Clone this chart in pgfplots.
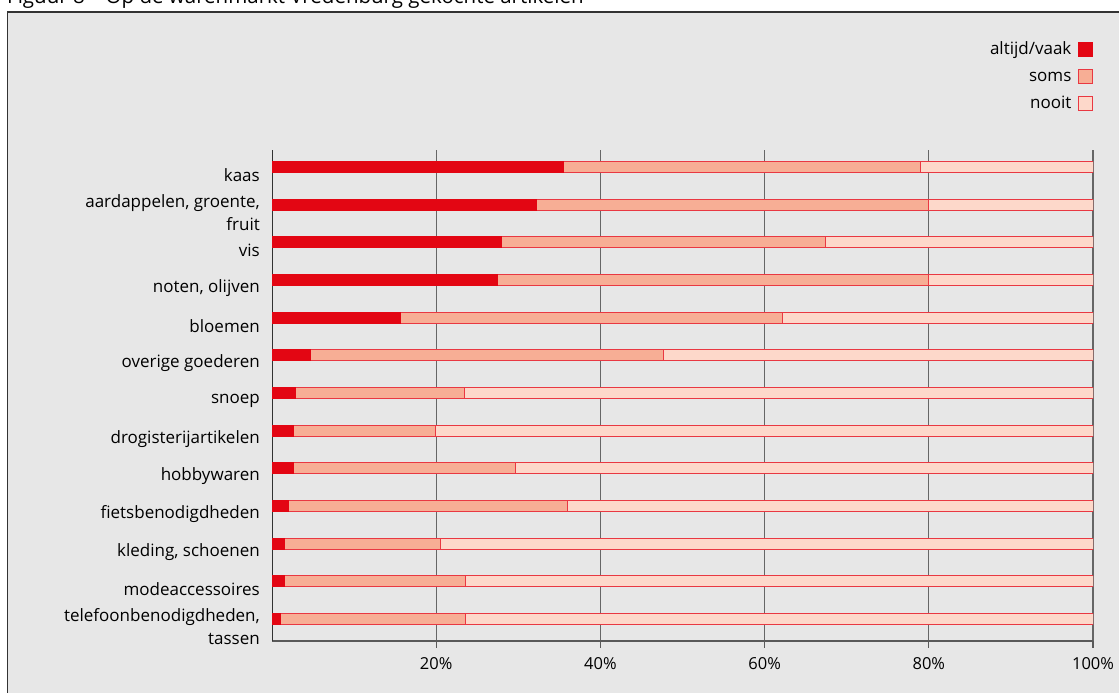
\documentclass[border=0pt]{standalone}
\usepackage{pgfplots}
\pgfplotsset{compat=1.18}
\usepackage{pgfplotstable}
\usepackage{fontspec}
\setmainfont{Open Sans}
\definecolor{bgc}{HTML}{E7E7E7}
\definecolor{redA}{HTML}{E30613}
\definecolor{redB}{HTML}{F7AE95}
\definecolor{redC}{HTML}{FDD8CA}
\pgfplotstableread{
y a s n
0 1.0 22.6 76.4
1 1.5 22.1 76.4
2 1.5 19.0 79.5
3 2.0 34.0 64.0
4 2.6 27.1 70.3
5 2.6 17.3 80.1
6 2.9 20.5 76.6
7 4.7 43.0 52.3
8 15.7 46.5 37.8
9 27.4 52.5 20.1
10 27.9 39.5 32.6
11 32.2 47.7 20.1
12 35.5 43.5 21.0
}\data
\begin{document}
\begin{tikzpicture}
\useasboundingbox (0,0) rectangle (1119bp,693bp);
\clip (0,0) rectangle (1119bp,693bp);
\draw[fill=bgc, draw=black!80, line width=1.3bp] (7.5bp,-10bp) rectangle (1130bp,681bp);
\node[anchor=base west, inner sep=0pt, font=\fontsize{20.5bp}{24bp}\selectfont] at (7bp,689bp) {Figuur 8 -- Op de warenmarkt Vredenburg gekochte artikelen};
\begin{axis}[
  at={(272bp,52bp)}, anchor=south west,
  scale only axis, width=821bp, height=491bp,
  xbar stacked, bar width=11bp,
  xmin=0, xmax=100, ymin=-0.584, ymax=12.45,
  axis x line*=bottom, axis y line*=left,
  x axis line style={draw=black!65, line width=1.6bp, -},
  y axis line style={draw=black!80, line width=1bp, -},
  xmajorgrids, grid style={black!60, line width=1.2bp},
  xtick={20,40,60,80,100},
  xticklabel={\pgfmathprintnumber{\tick}\%},
  /pgf/number format/assume math mode=true,
  x tick style={draw=black!65, line width=1.2bp},
  tick align=outside, major tick length=7bp,
  ytick={0,...,12},
  y tick style={draw=none},
  yticklabels={{telefoonbenodigdheden,\\tassen},modeaccessoires,{kleding, schoenen},fietsbenodigdheden,hobbywaren,drogisterijartikelen,snoep,overige goederen,bloemen,{noten, olijven},vis,{aardappelen, groente,\\fruit},kaas},
  y tick label style={align=right, yshift=-8bp, font=\fontsize{17bp}{23bp}\selectfont, inner sep=0pt, xshift=-5bp},
  x tick label style={font=\fontsize{16.5bp}{19bp}\selectfont, yshift=-6bp},
  legend style={draw=none, fill=none, at={(1,1)}, anchor=south east, yshift=36bp, xshift=0bp,
    font=\fontsize{17bp}{20bp}\selectfont, row sep=7bp, inner sep=0pt,
    nodes={inner sep=2bp, text height=12.5bp, text depth=3.5bp}},
  legend cell align=right, legend plot pos=right,
  legend image code/.code={\path[draw=none, fill=none] (0bp,0bp) -- (19bp,0bp); \draw[#1] (5bp,-7bp) rectangle (19bp,7bp);},
]
\addplot[fill=redA, draw=redA, line width=0.8bp] table[x=a, y=y] {\data};
\addplot[fill=redB, draw=redA!80, line width=0.8bp] table[x=s, y=y] {\data};
\addplot[fill=redC, draw=redA!80, line width=0.8bp] table[x=n, y=y] {\data};
\legend{altijd/vaak, soms, nooit}
\end{axis}
\end{tikzpicture}
\end{document}
